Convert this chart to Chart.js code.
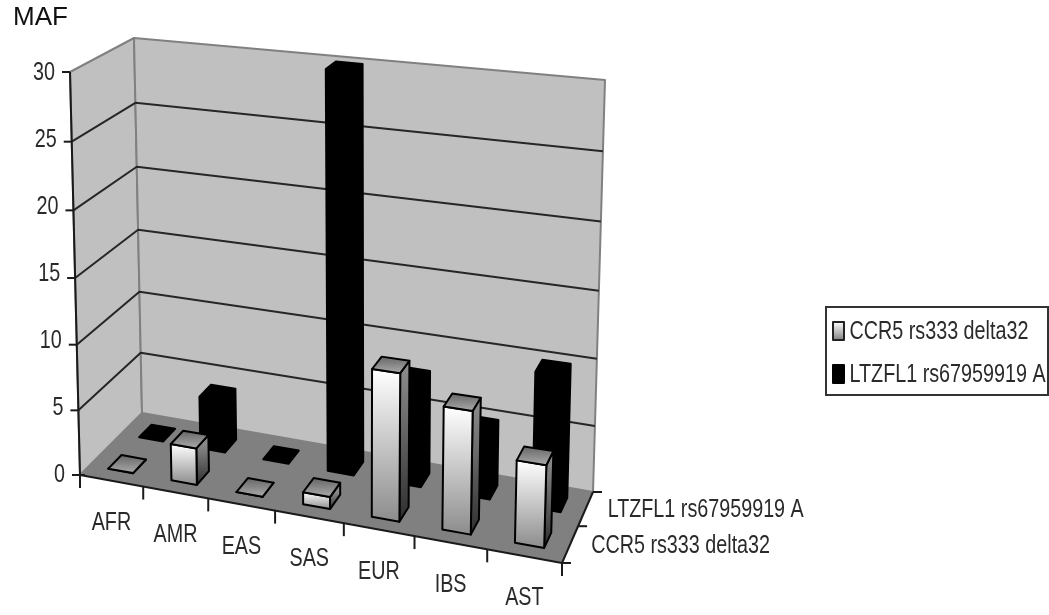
<!DOCTYPE html>
<html><head><meta charset="utf-8">
<style>html,body{margin:0;padding:0;background:#fff}#w{width:1049px;height:615px}</style>
<script src="https://cdn.jsdelivr.net/npm/chart.js@4/dist/chart.umd.min.js"></script>
</head><body><div id="w"><canvas id="c" width="1049" height="615"></canvas></div>
<script>
const categories = ['AFR','AMR','EAS','SAS','EUR','IBS','AST'];
const seriesNames = ['CCR5 rs333 delta32','LTZFL1 rs67959919 A'];
const ccr5 = [0.02,2.8,0,0.9,10.8,8.9,5.9];
const ltzfl1 = [0,4.1,0,30,7.9,5.0,10.0];
const yTicks = [0,5,10,15,20,25,30];

const FONT = '"Liberation Sans",Arial,sans-serif';
const TEXT = '#2a2a2a';
const LABEL_SIZE = 26.5;      // labels are set tall and condensed, as in the reference
const CONDENSE = 0.745;

function quad(p0,p1,p2,p3){
  const dx1=p1[0]-p2[0],dx2=p3[0]-p2[0],sx=p0[0]-p1[0]+p2[0]-p3[0];
  const dy1=p1[1]-p2[1],dy2=p3[1]-p2[1],sy=p0[1]-p1[1]+p2[1]-p3[1];
  const den=dx1*dy2-dx2*dy1,g=(sx*dy2-dx2*sy)/den,h=(dx1*sy-sx*dy1)/den;
  const a=p1[0]-p0[0]+g*p1[0],b=p3[0]-p0[0]+h*p3[0],d=p1[1]-p0[1]+g*p1[1],e=p3[1]-p0[1]+h*p3[1];
  return (u,w)=>{const q=g*u+h*w+1;return [(a*u+b*w+p0[0])/q,(d*u+e*w+p0[1])/q];};
}
// View of the box: floor and ceiling planes of the 3-D plot (front-left, front-right, back-right, back-left)
const floorPlane = quad([80,475],[562,563],[593,492],[142,413]);
const ceilPlane  = quad([70,72],[575,120],[605,80],[134,38]);
function P(u,w,t){
  const uu=u-0.05*u*(1-u);
  const a=floorPlane(uu,w),b=ceilPlane(uu,w),k=t-0.045*t*(1-t);
  return [a[0]+(b[0]-a[0])*k,a[1]+(b[1]-a[1])*k];
}
function poly(ctx,pts,fill,stroke,lw){
  ctx.beginPath();pts.forEach((p,i)=>i?ctx.lineTo(p[0],p[1]):ctx.moveTo(p[0],p[1]));ctx.closePath();
  if(fill){ctx.fillStyle=fill;ctx.fill();}
  if(stroke){ctx.strokeStyle=stroke;ctx.lineWidth=lw||2;ctx.lineJoin='round';ctx.stroke();}
}
function seg(ctx,a,b,c,lw){ctx.beginPath();ctx.moveTo(a[0],a[1]);ctx.lineTo(b[0],b[1]);ctx.strokeStyle=c;ctx.lineWidth=lw;ctx.stroke();}
function vgrad(ctx,y0,y1,c0,c1){const g=ctx.createLinearGradient(0,y0,0,y1);g.addColorStop(0,c0);g.addColorStop(1,c1);return g;}

const box3d = {
  id:'box3d',
  afterLayout(chart){
    const l=chart.legend;
    l.left=819.75;l.right=1049;l.top=301.5;l.bottom=615;
  },
  beforeDraw(chart){
    const {x,y}=chart.scales;
    y.getLabelItems().forEach(it=>{
      const t=(y.bottom-it.options.translation[1])/y.height;
      it.options.translation[0]=P(0,0,t)[0]-15;
    });
    x.getLabelItems().forEach((it,i)=>{
      const u=(x.getPixelForTick(i)-x.left)/x.width,p=P(u,0,0);
      it.options.translation=[p[0],p[1]+42];
      it.textOffset=0;
      it.options.textAlign='center';it.options.textBaseline='middle';
    });
  },
  beforeDatasetsDraw(chart){
    const ctx=chart.ctx,{x,y}=chart.scales;
    ctx.save();
    // walls and floor
    poly(ctx,[P(0,0,1),P(0,1,1),P(0,1,0),P(0,0,0)],'#c0c0c0','#808080',2);
    poly(ctx,[P(0,1,1),P(1,1,1),P(1,1,0),P(0,1,0)],'#c0c0c0','#808080',2);
    poly(ctx,[P(0,0,0),P(1,0,0),P(1,1,0),P(0,1,0)],'#808080');
    // gridlines
    y.ticks.forEach(tk=>{
      if(tk.value===0||tk.value===y.max)return;
      const t=(y.bottom-y.getPixelForValue(tk.value))/y.height;
      ctx.beginPath();const a=P(0,0,t),b=P(0,1,t),c=P(1,1,t);
      ctx.moveTo(a[0],a[1]);ctx.lineTo(b[0],b[1]);ctx.lineTo(c[0],c[1]);
      ctx.strokeStyle='#262626';ctx.lineWidth=2;ctx.stroke();
    });
    // bars, back row first
    [1,0].forEach(ds=>{
      const meta=chart.getDatasetMeta(ds),mid=(ds+0.5)/2,dd=0.105;
      meta.data.forEach(el=>{
        const uc=(el.x-x.left)/x.width,hw=el.width/x.width/2,t=(y.bottom-el.y)/y.height;
        const u0=uc-hw,u1=uc+hw,w0=mid-dd,w1=mid+dd;
        const fb0=P(u0,w0,0),fb1=P(u1,w0,0),bb1=P(u1,w1,0);
        const ft0=P(u0,w0,t),ft1=P(u1,w0,t),bt1=P(u1,w1,t),bt0=P(u0,w1,t);
        const stroke='#000';
        if(ds===1){
          poly(ctx,[fb0,fb1,bb1,bt1,bt0,ft0],'#000','#000',2);
        }else{
          const top=Math.min(ft0[1],ft1[1]),bot=Math.max(fb0[1],fb1[1]);
          poly(ctx,[fb1,bb1,bt1,ft1],vgrad(ctx,top,bot,'#8a8a8a','#2e2e2e'),stroke,2);
          poly(ctx,[fb0,fb1,ft1,ft0],vgrad(ctx,top,bot,'#ffffff','#8c8c8c'),stroke,2);
          poly(ctx,[ft0,ft1,bt1,bt0],vgrad(ctx,Math.min(bt0[1],bt1[1]),Math.max(ft0[1],ft1[1]),'#666666','#aaaaaa'),stroke,2);
        }
      });
    });
    // axes and ticks
    const ax='#1a1a1a';
    seg(ctx,P(0,0,0),P(0,0,1),ax,2);
    y.ticks.forEach(tk=>{
      const t=(y.bottom-y.getPixelForValue(tk.value))/y.height,p=P(0,0,t);
      seg(ctx,[p[0]-8,p[1]],[p[0]+(tk.value===0?5:0),p[1]],ax,2);
    });
    seg(ctx,P(0,0,0),P(1,0,0),ax,2);
    for(let i=0;i<=categories.length;i++){
      const p=P(i/categories.length,0,0);
      seg(ctx,p,[p[0],p[1]+13],ax,2);
    }
    seg(ctx,P(1,0,0),P(1,1,0),ax,2);
    [0,0.5,1].forEach(w=>{const p=P(1,w,0);seg(ctx,p,[p[0]+9,p[1]],ax,2);});
    // depth-axis labels, one per series
    ctx.font=LABEL_SIZE+'px '+FONT;ctx.fillStyle=TEXT;ctx.textAlign='left';ctx.textBaseline='middle';
    chart.data.datasets.forEach((d,i)=>{
      const p=P(1,(i+0.5)/2,0);
      ctx.fillText(d.label,p[0]+21+i,p[1]+1);
    });
    ctx.restore();
    return false;
  },
  afterDraw(chart){
    const ctx=chart.ctx;
    ctx.save();
    ctx.strokeStyle='#333';ctx.lineWidth=2;ctx.strokeRect(826,307,222,88);
    const g=vgrad(ctx,322,340,'#ffffff','#808080');
    poly(ctx,[[833,322],[844,322],[844,340],[833,340]],g,'#222',2);
    poly(ctx,[[833,365],[844,365],[844,383],[833,383]],'#000','#000',2);
    ctx.restore();
  }
};

const canvas=document.getElementById('c');
const c2d=canvas.getContext('2d');
const rawFill=c2d.fillText;
c2d.fillText=function(s,px,py){
  if(!this.font.includes(LABEL_SIZE+'px'))return rawFill.apply(this,arguments);
  this.save();this.translate(px,py);this.scale(CONDENSE,1);rawFill.call(this,s,0,0);this.restore();
};

new Chart(canvas,{
  type:'bar',
  data:{labels:categories,datasets:[
    {label:seriesNames[0],data:ccr5,backgroundColor:'#d8d8d8',borderWidth:0},
    {label:seriesNames[1],data:ltzfl1,backgroundColor:'#000000',borderWidth:0}
  ]},
  plugins:[box3d],
  options:{
    responsive:false,animation:false,devicePixelRatio:1,
    layout:{padding:{left:13,top:0,right:0,bottom:140}},
    datasets:{bar:{grouped:false,categoryPercentage:1,barPercentage:0.395}},
    plugins:{
      title:{display:true,text:'MAF',align:'start',color:'#111',font:{family:FONT,size:26,weight:'normal'},padding:{top:2,bottom:39}},
      legend:{position:'right',align:'start',labels:{boxWidth:0,boxHeight:0,padding:16.5,color:TEXT,font:{family:FONT,size:LABEL_SIZE}}},
      tooltip:{enabled:false}
    },
    scales:{
      x:{grid:{display:false},border:{display:false},
         ticks:{mirror:true,autoSkip:false,maxRotation:0,minRotation:0,color:TEXT,font:{family:FONT,size:LABEL_SIZE}},
         afterFit(s){s.height=0;}},
      y:{min:0,max:30,grid:{display:false},border:{display:false},
         afterBuildTicks(s){s.ticks=yTicks.slice().reverse().map(v=>({value:v}));},
         ticks:{color:TEXT,font:{family:FONT,size:LABEL_SIZE}},
         afterFit(s){s.width=55;}}
    }
  }
});
</script></body></html>
